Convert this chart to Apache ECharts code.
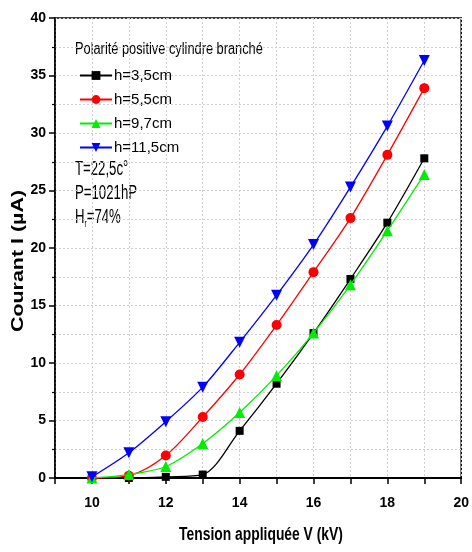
<!DOCTYPE html>
<html>
<head>
<meta charset="utf-8">
<script src="https://cdn.jsdelivr.net/npm/echarts@6/dist/echarts.min.js"></script>
<style>html,body{margin:0;padding:0;background:#fff}#c{width:472px;height:552px}</style>
</head>
<body>
<div id="c"></div>
<script>
var voltages = [10, 11, 12, 13, 14, 15, 16, 17, 18, 19];
var h35 = [0, 0, 0.1, 0.3, 4.1, 8.2, 12.6, 17.3, 22.2, 27.8];
var h55 = [0, 0.2, 1.95, 5.3, 9.0, 13.3, 17.9, 22.6, 28.1, 33.9];
var h97 = [0, 0.3, 1.0, 3.0, 5.7, 8.9, 12.6, 16.8, 21.5, 26.4];
var h115 = [0.1, 2.2, 4.9, 7.9, 11.8, 15.9, 20.3, 25.3, 30.6, 36.3];
var seriesNames = ['h=3,5cm', 'h=5,5cm', 'h=9,7cm', 'h=11,5cm'];
var xLabels = [10, 12, 14, 16, 18, 20];
var yLabels = [0, 5, 10, 15, 20, 25, 30, 35, 40];

var FONT = '"Liberation Sans", Arial, sans-serif';
function pairs(ys) { return voltages.map(function (v, i) { return [v, ys[i]]; }); }
var invTri = 'path://M0,0 L10,0 L5,9 Z';
var styles = [
  { color: '#000000', symbol: 'rect', size: 8 },
  { color: '#ff0000', symbol: 'circle', size: 10 },
  { color: '#00ee00', symbol: 'triangle', size: 11 },
  { color: '#0000ff', symbol: invTri, size: 11 }
];
var datas = [h35, h55, h97, h115];
var series = datas.map(function (d, i) {
  return {
    name: seriesNames[i], type: 'line', data: pairs(d),
    smooth: 0.3,
    symbol: styles[i].symbol, symbolSize: styles[i].size,
    itemStyle: { color: styles[i].color },
    lineStyle: { color: styles[i].color, width: 1.3 },
    z: 2 + i
  };
});

var chart = echarts.init(document.getElementById('c'), null, { renderer: 'canvas' });
chart.setOption({
  animation: false,
  backgroundColor: '#ffffff',
  grid: { left: 55, right: 7, top: 18, bottom: 74, show: true, borderColor: '#000', borderWidth: 1.5 },
  xAxis: {
    type: 'value', min: 9, max: 20, interval: 1,
    axisLine: { show: true, onZero: false, lineStyle: { color: '#000', width: 2 } },
    axisTick: { show: true, length: 6, lineStyle: { color: '#000', width: 1.5 } },
    axisLabel: {
      margin: 18, color: '#000', fontFamily: FONT, fontWeight: 'bold', fontSize: 14,
      formatter: function (v) { return xLabels.indexOf(v) >= 0 ? String(v) : ''; }
    },
    splitLine: { show: true, lineStyle: { color: '#cfcfcf', type: [2, 2], width: 1 } }
  },
  yAxis: {
    type: 'value', min: 0, max: 40, interval: 5,
    axisLine: { show: true, lineStyle: { color: '#000', width: 1.5 } },
    axisTick: { show: true, length: 6, lineStyle: { color: '#000', width: 1.5 } },
    minorTick: { show: true, splitNumber: 2, length: 3, lineStyle: { color: '#000', width: 1.2 } },
    axisLabel: {
      margin: 9, color: '#000', fontFamily: FONT, fontWeight: 'bold', fontSize: 14,
      formatter: function (v) { return yLabels.indexOf(v) >= 0 ? String(v) : ''; }
    },
    splitLine: { show: true, lineStyle: { color: '#cfcfcf', type: [2, 2], width: 1 } },
    minorSplitLine: { show: true, lineStyle: { color: '#cfcfcf', type: [2, 2], width: 1 } }
  },
  legend: {
    data: seriesNames, orient: 'vertical', left: 74, top: 63,
    itemWidth: 32, itemHeight: 11, itemGap: 9,
    textStyle: { fontFamily: FONT, fontSize: 15, color: '#000', padding: [0, 0, 0, -3] },
    backgroundColor: 'rgba(255,255,255,0)'
  },
  graphic: [
    { type: 'text', x: 75, y: 50, scaleX: 0.8, style: { text: 'Polarité positive cylindre branché', font: '16px ' + FONT, fill: '#000', verticalAlign: 'middle' } },
    { type: 'text', x: 75, y: 169, scaleX: 0.66, style: { text: 'T=22,5c°', font: '20px ' + FONT, fill: '#000', verticalAlign: 'middle' } },
    { type: 'text', x: 75, y: 193, scaleX: 0.66, style: { text: 'P=1021hP', font: '20px ' + FONT, fill: '#000', verticalAlign: 'middle' } },
    { type: 'text', x: 75, y: 217, scaleX: 0.66, style: {
        text: '{a|H}{b|r}{a|=74%}', verticalAlign: 'middle',
        rich: { a: { font: '20px ' + FONT, fill: '#000' }, b: { font: '10px ' + FONT, fill: '#000', verticalAlign: 'bottom', padding: [14, 0, 0, 0] } }
      } },
    { type: 'text', x: 261, y: 535, scaleX: 0.77, style: { text: 'Tension appliquée V (kV)', font: 'bold 18px ' + FONT, fill: '#000', align: 'center', verticalAlign: 'middle' } },
    { type: 'text', x: 19, y: 261, rotation: Math.PI / 2, scaleX: 1.19, scaleY: 0.88, style: { text: 'Courant I (µA)', font: 'bold 18px ' + FONT, fill: '#000', align: 'center', verticalAlign: 'middle' } }
  ],
  series: series
});
</script>
</body>
</html>
